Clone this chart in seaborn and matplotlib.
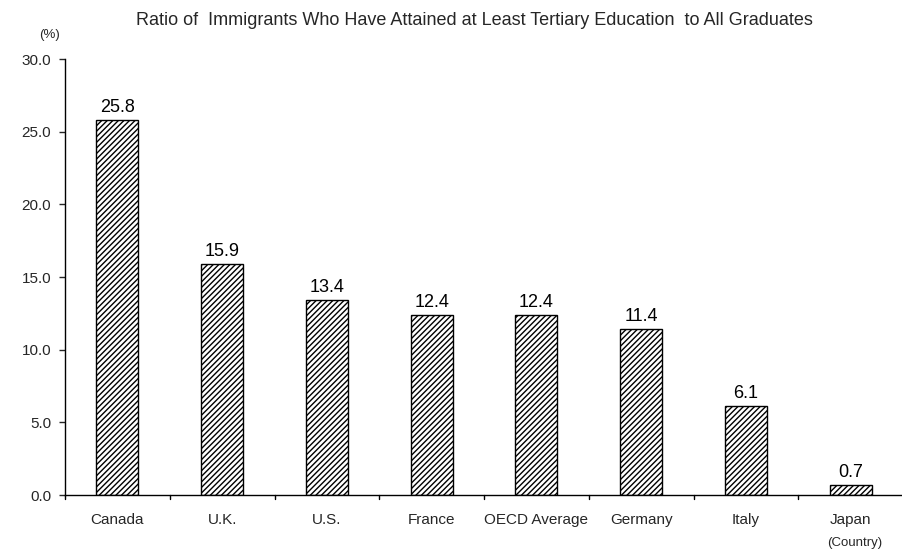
import matplotlib
matplotlib.use("Agg")
import matplotlib.pyplot as plt
import seaborn as sns
import pandas as pd

countries = ["Canada", "U.K.", "U.S.", "France", "OECD Average", "Germany", "Italy", "Japan"]
ratios = [25.8, 15.9, 13.4, 12.4, 12.4, 11.4, 6.1, 0.7]
y_ticks = [0.0, 5.0, 10.0, 15.0, 20.0, 25.0, 30.0]

df = pd.DataFrame({"country": countries, "ratio": ratios})

sns.set_theme(style="white")
plt.rcParams["font.family"] = ["Liberation Sans", "DejaVu Sans"]
plt.rcParams["hatch.linewidth"] = 1.0
plt.rcParams["hatch.color"] = "#3a3a3a"

fig = plt.figure(figsize=(9.03, 5.52), dpi=100)
ax = fig.add_axes([0.072, 0.103, 0.928, 0.79])

sns.barplot(data=df, x="country", y="ratio", ax=ax, width=0.4,
            color="white", edgecolor="black", linewidth=1.0, hatch="//////",
            saturation=1)

for patch, v in zip(ax.patches, ratios):
    ax.text(patch.get_x() + patch.get_width() / 2, v + 0.3, f"{v:.1f}",
            ha="center", va="bottom", fontsize=13, color="black")

ax.set_xlim(-0.5, len(countries) - 0.5)
ax.set_ylim(0, 30)
ax.set_yticks(y_ticks)
ax.set_yticklabels([f"{t:.1f}" for t in y_ticks], fontsize=11)
ax.set_xticks(range(len(countries)))
ax.set_xticklabels(countries, fontsize=11)
ax.tick_params(axis="x", length=0, pad=13)
ax.tick_params(axis="y", length=4, width=1, direction="out", left=True, pad=6)

# separators between categories on the x axis
for b in range(len(countries)):
    ax.plot([b - 0.5, b - 0.5], [0, -0.25], color="black", lw=1, clip_on=False)

for side in ["top", "right"]:
    ax.spines[side].set_visible(False)
ax.spines["left"].set_color("black")
ax.spines["bottom"].set_color("black")
ax.spines["left"].set_linewidth(1)
ax.spines["bottom"].set_linewidth(1)
ax.set_xlabel("")
ax.set_ylabel("")

fig.text(0.525, 0.963, "Ratio of  Immigrants Who Have Attained at Least Tertiary Education  to All Graduates",
         ha="center", va="center", fontsize=13)
fig.text(0.055, 0.937, "(%)", ha="center", va="center", fontsize=9.5)
fig.text(0.947, 0.016, "(Country)", ha="center", va="center", fontsize=9.5)

fig.savefig("out.png", dpi=100)
